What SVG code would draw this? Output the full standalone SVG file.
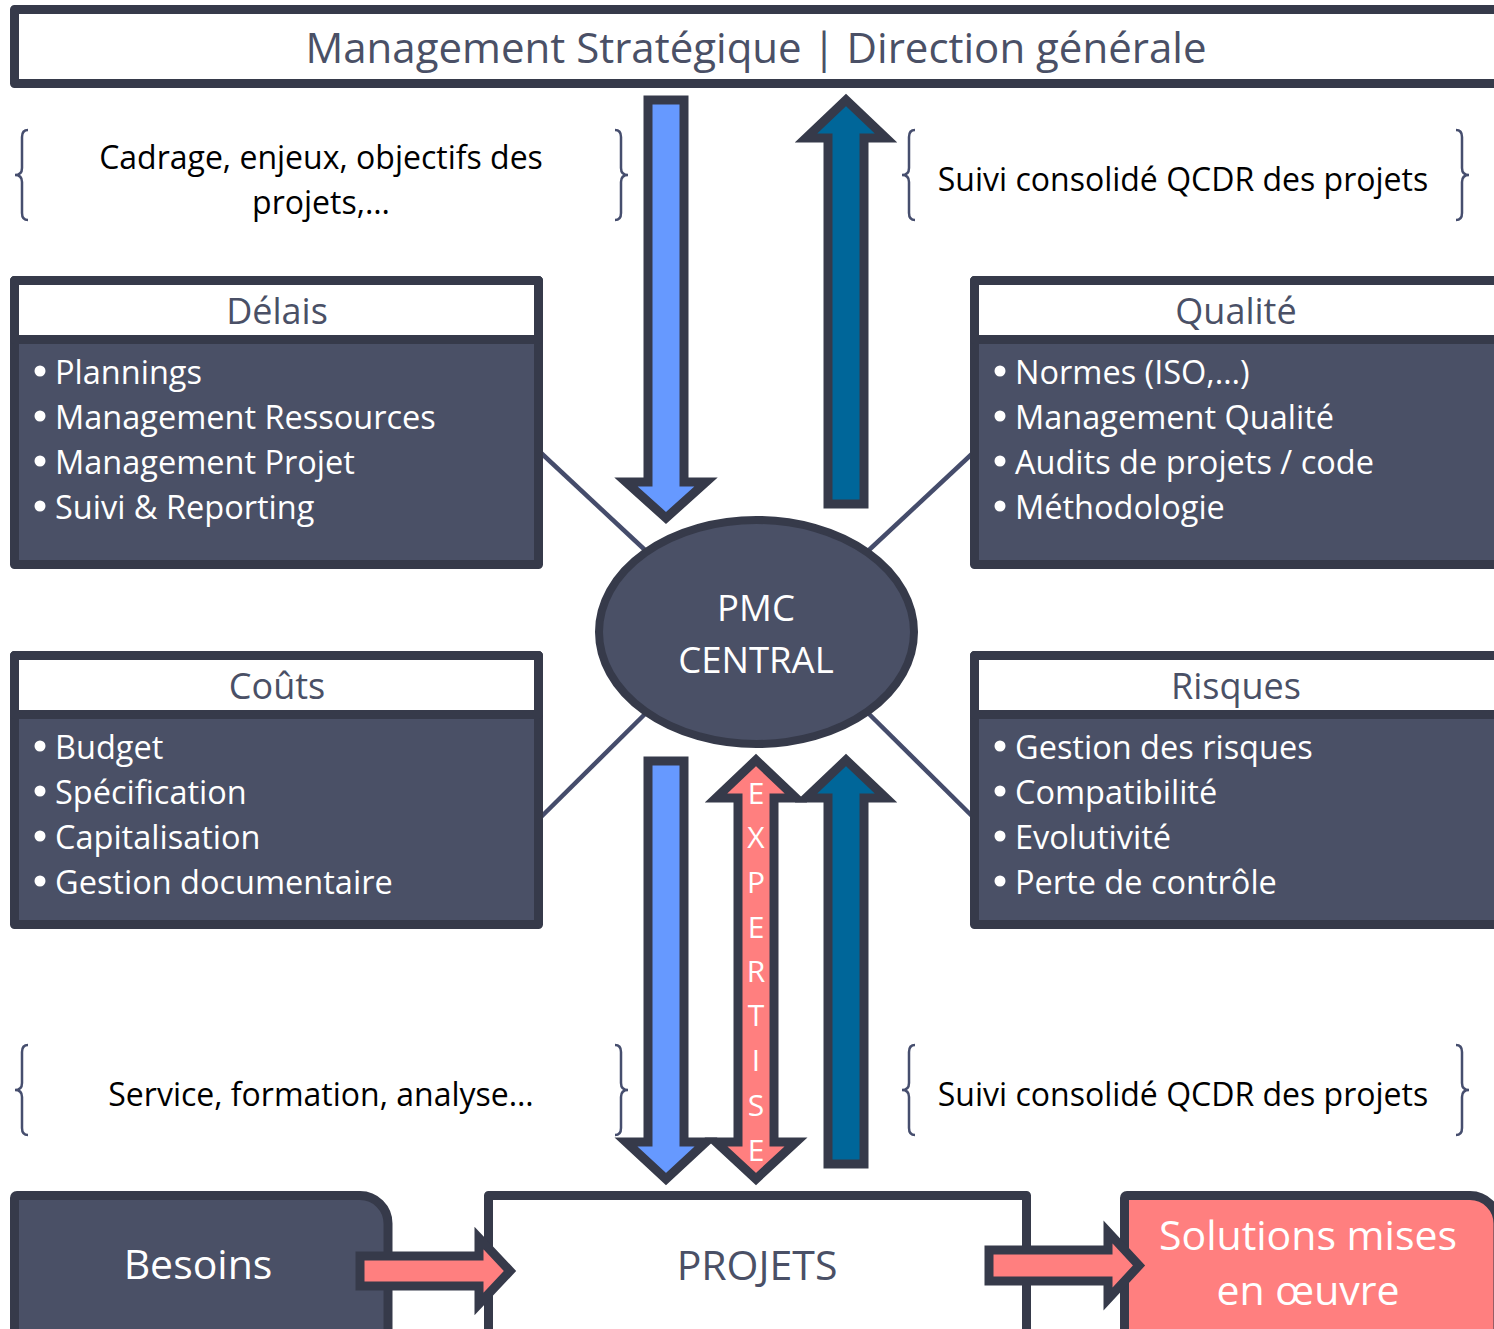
<svg xmlns="http://www.w3.org/2000/svg" width="1494" height="1329" viewBox="0 0 1494 1329">
<style>
.box{fill:#4a5066;stroke:#363a4a;stroke-width:9;stroke-linejoin:round}
.hdr{fill:#ffffff;stroke:#363a4a;stroke-width:9;stroke-linejoin:round}
.t{font-family:"Open Sans","DejaVu Sans",sans-serif}
.hd{font-size:36px;fill:#4a5066;text-anchor:middle}
.it{font-size:32.5px;fill:#ffffff}
.br{fill:none;stroke:#464e6e;stroke-width:2.5}
.bt{font-size:32px;fill:#000000;text-anchor:middle}
.ln{stroke:#454c6b;stroke-width:4.5}
.arr{stroke:#363a4a;stroke-width:9;stroke-linejoin:miter;stroke-miterlimit:10}
.lb{fill:#6699ff}
.db{fill:#006699}
.sa{fill:#ff7f7f}
.big{font-size:41px;text-anchor:middle}
.bul{fill:#ffffff}
.ex{font-size:30px;fill:#ffffff;text-anchor:middle}
</style>

<g id="connectors">
  <line class="ln" x1="540" y1="452" x2="645" y2="550"/>
  <line class="ln" x1="974" y1="452" x2="869" y2="550"/>
  <line class="ln" x1="540" y1="818" x2="645" y2="714"/>
  <line class="ln" x1="974" y1="818" x2="869" y2="714"/>
</g>

<g id="title">
  <rect class="hdr" x="14.5" y="9.5" width="1484" height="74"/>
  <text class="t" x="756" y="63" font-size="42" fill="#4a5066" text-anchor="middle">Management Stratégique | Direction générale</text>
</g>

<g id="brace-top-left">
  <path class="br" d="M28,130 Q22,130 22,137 L22,168 Q22,175 15,175 Q22,175 22,182 L22,213 Q22,220 28,220"/>
  <path class="br" d="M615,130 Q621,130 621,137 L621,168 Q621,175 628,175 Q621,175 621,182 L621,213 Q621,220 615,220"/>
  <text class="t bt" x="321" y="169">Cadrage, enjeux, objectifs des</text>
  <text class="t bt" x="321" y="214">projets,…</text>
</g>

<g id="brace-top-right">
  <path class="br" d="M915,130 Q909,130 909,137 L909,168 Q909,175 902,175 Q909,175 909,182 L909,213 Q909,220 915,220"/>
  <path class="br" d="M1456,130 Q1462,130 1462,137 L1462,168 Q1462,175 1469,175 Q1462,175 1462,182 L1462,213 Q1462,220 1456,220"/>
  <text class="t bt" x="1183" y="191">Suivi consolidé QCDR des projets</text>
</g>

<g id="delais">
  <rect class="box" x="14.5" y="280.5" width="524" height="284"/>
  <rect class="hdr" x="14.5" y="280.5" width="524" height="59"/>
  <text class="t hd" x="277" y="324">Délais</text>
  <circle class="bul" cx="40" cy="371" r="5.5"/>
  <circle class="bul" cx="40" cy="416" r="5.5"/>
  <circle class="bul" cx="40" cy="461" r="5.5"/>
  <circle class="bul" cx="40" cy="506" r="5.5"/>
  <text class="t it" x="55" y="384">Plannings</text>
  <text class="t it" x="55" y="429">Management Ressources</text>
  <text class="t it" x="55" y="474">Management Projet</text>
  <text class="t it" x="55" y="519">Suivi &amp; Reporting</text>
</g>

<g id="qualite">
  <rect class="box" x="974.5" y="280.5" width="524" height="284"/>
  <rect class="hdr" x="974.5" y="280.5" width="524" height="59"/>
  <text class="t hd" x="1236" y="324">Qualité</text>
  <circle class="bul" cx="1000" cy="371" r="5.5"/>
  <circle class="bul" cx="1000" cy="416" r="5.5"/>
  <circle class="bul" cx="1000" cy="461" r="5.5"/>
  <circle class="bul" cx="1000" cy="506" r="5.5"/>
  <text class="t it" x="1015" y="384">Normes (ISO,…)</text>
  <text class="t it" x="1015" y="429">Management Qualité</text>
  <text class="t it" x="1015" y="474">Audits de projets / code</text>
  <text class="t it" x="1015" y="519">Méthodologie</text>
</g>

<g id="couts">
  <rect class="box" x="14.5" y="655.5" width="524" height="269"/>
  <rect class="hdr" x="14.5" y="655.5" width="524" height="59"/>
  <text class="t hd" x="277" y="699">Coûts</text>
  <circle class="bul" cx="40" cy="746" r="5.5"/>
  <circle class="bul" cx="40" cy="791" r="5.5"/>
  <circle class="bul" cx="40" cy="836" r="5.5"/>
  <circle class="bul" cx="40" cy="881" r="5.5"/>
  <text class="t it" x="55" y="759">Budget</text>
  <text class="t it" x="55" y="804">Spécification</text>
  <text class="t it" x="55" y="849">Capitalisation</text>
  <text class="t it" x="55" y="894">Gestion documentaire</text>
</g>

<g id="risques">
  <rect class="box" x="974.5" y="655.5" width="524" height="269"/>
  <rect class="hdr" x="974.5" y="655.5" width="524" height="59"/>
  <text class="t hd" x="1236" y="699">Risques</text>
  <circle class="bul" cx="1000" cy="746" r="5.5"/>
  <circle class="bul" cx="1000" cy="791" r="5.5"/>
  <circle class="bul" cx="1000" cy="836" r="5.5"/>
  <circle class="bul" cx="1000" cy="881" r="5.5"/>
  <text class="t it" x="1015" y="759">Gestion des risques</text>
  <text class="t it" x="1015" y="804">Compatibilité</text>
  <text class="t it" x="1015" y="849">Evolutivité</text>
  <text class="t it" x="1015" y="894">Perte de contrôle</text>
</g>

<g id="pmc">
  <ellipse cx="756.5" cy="632" rx="157.5" ry="112" fill="#4a5066" stroke="#363a4a" stroke-width="8"/>
  <text class="t" x="756" y="621" font-size="36.5" fill="#ffffff" text-anchor="middle">PMC</text>
  <text class="t" x="756" y="673" font-size="36.5" fill="#ffffff" text-anchor="middle">CENTRAL</text>
</g>

<g id="brace-bottom-left">
  <path class="br" d="M28,1045 Q22,1045 22,1052 L22,1083 Q22,1090 15,1090 Q22,1090 22,1097 L22,1128 Q22,1135 28,1135"/>
  <path class="br" d="M615,1045 Q621,1045 621,1052 L621,1083 Q621,1090 628,1090 Q621,1090 621,1097 L621,1128 Q621,1135 615,1135"/>
  <text class="t bt" x="321" y="1106">Service, formation, analyse…</text>
</g>

<g id="brace-bottom-right">
  <path class="br" d="M915,1045 Q909,1045 909,1052 L909,1083 Q909,1090 902,1090 Q909,1090 909,1097 L909,1128 Q909,1135 915,1135"/>
  <path class="br" d="M1456,1045 Q1462,1045 1462,1052 L1462,1083 Q1462,1090 1469,1090 Q1462,1090 1462,1097 L1462,1128 Q1462,1135 1456,1135"/>
  <text class="t bt" x="1183" y="1106">Suivi consolidé QCDR des projets</text>
</g>

<g id="besoins">
  <path class="box" d="M14.5,1345 L14.5,1198 Q14.5,1195.5 17,1195.5 L360,1195.5 A28,28 0 0 1 388,1223.5 L388,1345 Z"/>
  <text class="t big" x="198" y="1279" fill="#ffffff">Besoins</text>
</g>

<g id="projets">
  <rect class="hdr" x="488.5" y="1195.5" width="538" height="150"/>
  <text class="t big" x="757" y="1280" fill="#4a5066">PROJETS</text>
</g>

<g id="solutions">
  <path d="M1124.5,1345 L1124.5,1198 Q1124.5,1195.5 1127,1195.5 L1470,1195.5 A28,28 0 0 1 1498,1223.5 L1498,1345 Z" fill="#ff7f7f" stroke="#363a4a" stroke-width="9"/>
  <text class="t big" x="1308" y="1250" fill="#ffffff">Solutions mises</text>
  <text class="t big" x="1308" y="1305" fill="#ffffff">en œuvre</text>
</g>

<g id="flow-arrows">
  <polygon class="arr lb" points="648,100 684,100 684,482 706,482 666,518 626,482 648,482"/>
  <polygon class="arr db" points="828,504 864,504 864,138 886,138 846,100 806,138 828,138"/>
  <polygon class="arr lb" points="648,761 684,761 684,1142 706,1142 666,1179 626,1142 648,1142"/>
  <polygon class="arr sa" points="756,760 796,798 774,798 774,1142 796,1142 756,1179 716,1142 738,1142 738,798 716,798"/>
  <polygon class="arr db" points="828,1164 864,1164 864,798 886,798 846,760 806,798 828,798"/>
  <g class="t ex">
    <text x="756" y="804">E</text>
    <text x="756" y="848">X</text>
    <text x="756" y="893">P</text>
    <text x="756" y="938">E</text>
    <text x="756" y="982">R</text>
    <text x="756" y="1026">T</text>
    <text x="756" y="1071">I</text>
    <text x="756" y="1116">S</text>
    <text x="756" y="1161">E</text>
  </g>
  <polygon class="arr sa" points="360,1256 479,1256 479,1238 510,1271 479,1304 479,1286 360,1286"/>
  <polygon class="arr sa" points="989,1250 1108,1250 1108,1232 1139,1265.5 1108,1299 1108,1281 989,1281"/>
</g>
</svg>
